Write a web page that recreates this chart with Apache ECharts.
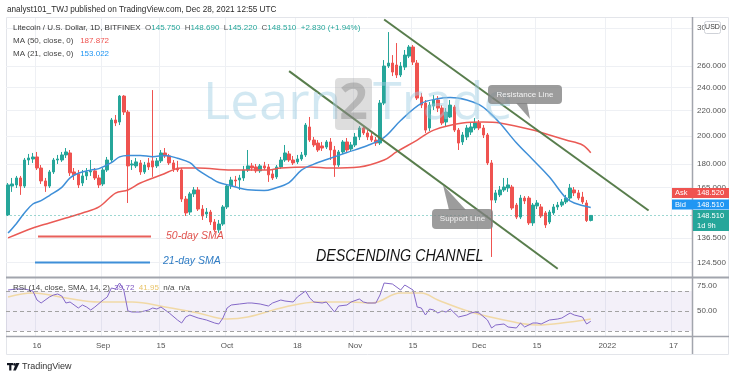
<!DOCTYPE html>
<html><head><meta charset="utf-8">
<script src="https://cdn.jsdelivr.net/npm/echarts@6/dist/echarts.min.js"></script>
<style>html,body{margin:0;padding:0;background:#fff}#c{width:740px;height:379px}</style>
</head><body><div id="c"></div>
<script>
// ---------- DATA ----------
const firstDay = '2021-08-09';   // first category (day index 0)
const dayCount = 166;            // categories through 2022-01-21
// daily candles from 2021-08-09 to 2021-12-28: [open, close, low, high]
const candles = [
[148.8,166.5,148.2,167.7],[165.8,167.1,162.2,170.9],[166.5,170.9,164.6,172.2],[170.9,165.8,160.4,172.2],
[165.8,182.8,164.6,184.2],[182.8,184.2,179.4,187.0],[183.5,184.9,180.8,187.7],[184.9,177.4,176.1,188.4],
[177.4,169.0,167.1,179.4],[169.0,165.8,162.2,170.9],[165.8,174.8,164.6,176.1],[174.8,182.8,173.5,184.2],
[182.8,183.5,180.1,186.3],[182.8,186.3,181.5,188.4],[186.3,188.4,184.2,191.2],[187.7,174.2,172.2,189.8],
[174.8,172.9,169.6,177.4],[173.5,166.5,164.6,176.1],[167.7,172.2,165.8,176.1],[172.2,174.8,169.6,177.4],
[174.8,175.5,172.2,182.8],[175.5,170.9,169.6,177.4],[170.9,166.5,164.6,172.9],[167.1,176.1,165.8,177.4],
[176.1,182.8,174.8,184.9],[182.8,212.4,181.5,214.0],[212.4,210.0,207.6,216.4],[210.8,232.3,208.4,233.2],
[232.3,218.8,216.4,233.2],[218.8,178.8,155.6,220.5],[179.4,180.1,176.1,182.8],[178.8,181.5,177.4,184.2],
[180.8,174.8,172.9,182.8],[174.8,179.4,173.5,181.5],[180.8,178.1,176.1,184.2],[182.2,178.1,171.6,237.6],
[178.8,182.2,177.4,184.2],[182.2,187.7,180.8,189.8],[187.7,185.6,184.2,191.2],[185.6,180.8,179.4,187.0],
[180.8,176.8,174.8,182.8],[177.4,176.1,174.8,182.2],[176.1,157.9,156.2,177.4],[157.9,149.9,148.2,159.7],
[150.4,161.0,148.8,162.2],[161.0,163.4,159.1,165.2],[163.4,152.1,151.0,165.2],[152.1,148.2,146.0,154.4],
[149.3,150.4,147.1,152.7],[150.4,144.9,143.3,151.6],[144.9,140.7,139.6,146.5],[140.7,143.8,139.1,146.0],
[143.8,153.3,142.8,154.4],[153.3,165.8,152.1,167.1],[165.8,169.6,164.0,171.6],[169.6,169.0,165.8,172.2],
[169.6,170.9,163.4,172.9],[170.9,176.1,169.0,178.8],[176.1,178.8,174.8,189.8],[178.8,177.4,175.5,180.8],
[178.1,175.5,174.2,180.1],[175.5,178.8,174.2,180.1],[178.8,177.4,176.1,181.5],[178.1,172.9,168.4,180.1],
[173.5,170.9,169.6,176.1],[171.6,178.1,170.3,179.4],[178.1,182.8,176.8,184.9],[182.8,187.7,181.5,193.4],
[187.0,182.8,181.5,189.1],[182.8,180.8,179.4,185.6],[181.5,183.5,180.1,186.3],[183.5,186.3,182.2,188.4],
[186.3,208.4,184.9,210.0],[206.9,197.0,195.6,214.8],[197.0,193.4,191.9,199.3],[194.8,189.8,188.4,197.0],
[192.7,191.2,189.1,195.6],[191.9,195.6,190.5,197.0],[195.6,189.8,182.8,198.5],[189.8,179.4,171.6,192.7],
[179.4,188.4,178.1,189.8],[188.4,195.6,187.0,197.0],[195.6,189.8,188.4,198.5],[190.5,193.4,189.1,195.6],
[193.4,199.3,191.9,202.3],[199.3,206.1,197.0,207.6],[206.1,202.3,200.8,208.4],[202.3,199.3,197.0,204.5],
[200.0,197.0,195.6,202.3],[197.0,194.8,192.7,199.3],[194.8,226.3,193.4,228.9],[226.3,260.0,224.6,265.9],
[260.0,262.9,258.1,295.3],[262.9,254.2,250.4,270.9],[261.0,251.4,248.6,283.4],[251.4,260.0,249.5,263.9],
[259.0,270.9,256.1,276.1],[269.9,279.2,267.9,281.3],[279.2,263.9,261.0,281.3],[262.9,230.6,228.9,265.9],
[231.5,224.6,222.1,235.0],[226.3,204.5,202.3,228.9],[206.1,224.6,203.8,227.2],[223.8,228.9,220.5,233.2],
[228.9,222.1,218.8,232.3],[222.1,210.0,208.4,224.6],[210.8,218.8,207.6,222.1],[214.8,224.6,214.0,228.9],
[223.0,204.5,203.0,224.6],[204.5,194.8,189.8,206.1],[195.6,200.8,193.4,203.0],[199.3,206.1,197.0,208.4],
[203.0,206.9,200.8,210.0],[206.1,210.0,204.5,214.0],[210.0,206.1,204.5,212.4],[206.1,200.8,198.5,208.4],
[200.8,180.8,179.4,202.3],[180.8,157.3,127.1,182.8],[157.3,161.6,155.6,163.4],[160.4,163.4,159.1,165.8],
[163.4,165.2,162.2,170.9],[164.6,166.5,162.2,170.9],[165.2,152.7,151.6,166.5],[154.4,147.6,146.5,155.6],
[147.6,158.5,146.5,160.4],[158.5,156.8,155.0,159.7],[158.5,144.4,143.3,159.7],[144.4,154.4,142.8,155.6],
[153.9,155.6,152.1,157.3],[153.3,148.2,147.1,155.0],[149.9,143.3,141.7,151.0],[144.9,150.4,143.8,151.6],
[149.9,153.3,148.8,155.0],[153.3,154.4,151.6,156.2],[154.4,156.2,153.3,157.9],[156.2,158.5,155.0,160.4],
[158.5,164.6,157.3,167.1],[163.4,161.6,159.7,165.2],[161.6,158.5,157.3,163.4],[159.1,156.2,155.0,162.2],
[155.6,145.68,144.9,157.3],[145.75,148.51,145.22,148.69]
];
// moving averages: [day index, value]
const ma50 = [[0,136.5],[6,141.7],[10,144.4],[14,147.1],[18,149.9],[22,153.3],[26,161.5],[29,163.4],[32,167.7],
[37,172.8],[42,177.4],[46,177.4],[54,176.1],[63,176.1],[66,177.4],[73,178.1],[78,177.4],[85,178.1],[91,182.8],
[94,188.4],[99,197.0],[103,204.5],[110,210],[115,210.8],[119,210],[127,204.5],[131,200.7],[135,197.0],[139,193.4],[141,187.872]];
const ma21 = [[0,139],[2,144],[4,150],[6,155],[8,157],[10,160],[13,165],[15,171],[17,174],[20,176],[22,177],[25,181],
[27,185],[29,186],[32,186],[35,185],[38,186],[41,184],[44,181],[46,176],[49,171],[51,168],[54,166],[56,164.5],[58,163.5],
[62,163],[64,164],[68,168],[71,176],[74,180],[78,184],[82,188],[87,193],[91,199],[95,212],[100,226],[104,230],[107,231],
[111,229],[114,225],[116,220],[119,210],[123,195],[127,183],[131,171.5],[135,158.5],[137,155.6],[141,153.022]];
// RSI(14) and its SMA: [day index, value]
const rsi = [[0,71],[2,72],[4,72],[6,70],[7,61],[8,58],[10,64],[11,66],[12,67],[13,65],[14,58],[15,59],[17,53],[18,56],
[19,54],[20,51],[21,54],[23,61],[24,64],[25,73],[26,72],[27,78],[28,71],[29,50],[30,49],[32,49],[33,50],[34,51],[35,53],
[36,52],[37,54],[39,48],[41,41],[42,38],[43,44],[44,46],[46,43],[47,42],[48,41],[50,38],[51,37],[52,43],[53,53],[54,56],
[56,57],[58,58],[59,58],[61,57],[63,55],[64,58],[66,61],[67,60],[69,59],[70,64],[72,70],[73,63],[74,59],[76,58],[77,59],
[79,49],[80,55],[82,56],[83,59],[85,62],[86,59],[87,58],[89,58],[90,66],[91,78],[93,77],[95,71],[96,76],[98,71],[99,54],
[100,53],[101,46],[102,52],[103,51],[104,48],[105,50],[106,49],[107,52],[109,44],[111,46],[112,48],[113,49],[114,48],
[116,41],[117,33],[118,36],[120,37],[121,34],[123,33],[124,38],[125,34],[127,38],[128,38],[129,37],[131,41],[133,42],
[134,43],[136,48],[137,46],[139,44],[140,37],[141,39.72]];
const rsiSma = [[0,64],[6,68],[14,63],[22,59],[30,59],[38,54],[46,48],[53,42],[58,44],[67,54],[75,59],[83,59],[88,58],
[95,68],[100,68],[104,61],[112,49],[120,41],[128,36],[136,39],[141,41.95]];
// drawn trend lines: [day index, price]
const resistanceLine = [[91,309.6],[155,151.3]];
const supportLine = [[68,255.1],[133,121.6]];
// axis ticks
const priceTicks = [124.5,136.5,165,180,200,220,240,260,300];
const rsiTicks = [50,75];
const rsiLevels = [30,50,70];
const timeTicks = {'2021-08-16':'16','2021-09-01':'Sep','2021-09-15':'15','2021-10-01':'Oct','2021-10-18':'18',
  '2021-11-01':'Nov','2021-11-15':'15','2021-12-01':'Dec','2021-12-15':'15','2022-01-01':'2022','2022-01-17':'17'};
const lastClose = 148.51, askPrice = 148.52, bidPrice = 148.51;

// ---------- BUILD ----------
const cats = [];
const t0 = Date.parse(firstDay + 'T00:00:00Z');
for (let k = 0; k < dayCount; k++) cats.push(new Date(t0 + k * 864e5).toISOString().slice(0, 10));
const L = Math.log;
const UP = '#26a69a', DOWN = '#ef5350';
const FF = '"Liberation Sans", Arial, sans-serif';
const isTick = (i, v) => timeTicks[v] !== undefined;
const GRID = '#eef0f4';
const pairs = arr => arr.map(([i, v]) => [i, L(v)]);

const chart = echarts.init(document.getElementById('c'), null, {renderer: 'canvas'});
function txt(x, y, text, font, fill, extra) {
  return Object.assign({type: 'text', x: x, y: y, z: 100, silent: true,
    style: {text: text, font: font, fill: fill, verticalAlign: 'middle', textVerticalAlign: 'middle'}}, extra || {});
}
function ctxt(x, y, text, font, fill, z) {
  return {type: 'text', x: x, y: y, z: z || 100, silent: true,
    style: {text: text, font: font, fill: fill, align: 'center', textAlign: 'center', verticalAlign: 'middle', textVerticalAlign: 'middle'}};
}
const f8 = '8px ' + FF;
const option = {
  animation: false,
  backgroundColor: '#fff',
  grid: [{left: 6, top: 18, width: 686, height: 259}, {left: 6, top: 278, width: 686, height: 58}],
  xAxis: [
    {type: 'category', gridIndex: 0, data: cats, boundaryGap: true, axisLine: {show: false}, axisTick: {show: false},
     axisLabel: {show: false}, splitLine: {show: true, interval: isTick, lineStyle: {color: GRID}}},
    {type: 'category', gridIndex: 1, data: cats, boundaryGap: true, axisLine: {show: false}, axisTick: {show: false},
     axisLabel: {show: true, interval: isTick, formatter: v => timeTicks[v], color: '#555', fontSize: 8, fontFamily: FF, margin: 6},
     splitLine: {show: true, interval: isTick, lineStyle: {color: GRID}}}
  ],
  yAxis: [
    {type: 'value', gridIndex: 0, position: 'right', min: L(117.9), max: L(311.3), axisLine: {show: false},
     axisTick: {show: false, customValues: priceTicks.map(L)},
     axisLabel: {customValues: priceTicks.map(L), formatter: v => Math.exp(v).toFixed(3), color: '#555', fontSize: 8, fontFamily: FF, margin: 5},
     splitLine: {show: true, lineStyle: {color: GRID}}},
    {type: 'value', gridIndex: 1, position: 'right', min: 25, max: 83, axisLine: {show: false},
     axisTick: {show: false, customValues: rsiTicks},
     axisLabel: {customValues: rsiTicks, formatter: v => v.toFixed(2), color: '#555', fontSize: 8, fontFamily: FF, margin: 5},
     splitLine: {show: false}}
  ],
  series: [
    {type: 'candlestick', xAxisIndex: 0, yAxisIndex: 0, barWidth: 3,
     data: candles.map(c => c.map(L)),
     itemStyle: {color: UP, color0: DOWN, borderColor: UP, borderColor0: DOWN, borderWidth: 1},
     markLine: {silent: true, symbol: ['none', 'none'], label: {show: false}, animation: false,
       data: [
         {yAxis: L(lastClose), lineStyle: {color: 'rgba(38,166,154,0.45)', type: [2, 2], width: 1}},
         [{coord: [resistanceLine[0][0], L(resistanceLine[0][1])], lineStyle: {color: '#587d4c', width: 2, type: 'solid'}},
          {coord: [resistanceLine[1][0], L(resistanceLine[1][1])]}],
         [{coord: [supportLine[0][0], L(supportLine[0][1])], lineStyle: {color: '#587d4c', width: 2, type: 'solid'}},
          {coord: [supportLine[1][0], L(supportLine[1][1])]}]
       ]}},
    {type: 'line', xAxisIndex: 0, yAxisIndex: 0, data: pairs(ma50), smooth: 0.35, showSymbol: false,
     lineStyle: {color: '#ea5a55', width: 1.5}, z: 3},
    {type: 'line', xAxisIndex: 0, yAxisIndex: 0, data: pairs(ma21), smooth: 0.35, showSymbol: false,
     lineStyle: {color: '#3f8fd8', width: 1.5}, z: 3},
    {type: 'line', xAxisIndex: 1, yAxisIndex: 1, data: rsiSma, smooth: 0.4, showSymbol: false,
     lineStyle: {color: '#f1d9a6', width: 1.5}},
    {type: 'line', xAxisIndex: 1, yAxisIndex: 1, data: rsi, showSymbol: false,
     lineStyle: {color: '#8468c8', width: 1},
     markArea: {silent: true, itemStyle: {color: 'rgba(126,87,194,0.09)'}, data: [[{yAxis: rsiLevels[0]}, {yAxis: rsiLevels[2]}]]},
     markLine: {silent: true, symbol: ['none', 'none'], label: {show: false},
       lineStyle: {color: '#a3a3a3', type: [4, 3], width: 1}, data: rsiLevels.map(v => ({yAxis: v}))}}
  ],
  graphic: [
    // frame and separators
    {type: 'rect', z: 0, silent: true, shape: {x: 6.5, y: 17.5, width: 722, height: 337}, style: {fill: 'none', stroke: '#e3e5ea', lineWidth: 1}},
    {type: 'line', z: 90, silent: true, shape: {x1: 6, y1: 277.5, x2: 729, y2: 277.5}, style: {stroke: '#a2a5ad', lineWidth: 2}},
    {type: 'line', z: 90, silent: true, shape: {x1: 6, y1: 336.5, x2: 729, y2: 336.5}, style: {stroke: '#a2a5ad', lineWidth: 1.5}},
    {type: 'line', z: 90, silent: true, shape: {x1: 692.5, y1: 17, x2: 692.5, y2: 354}, style: {stroke: '#a2a5ad', lineWidth: 1.5}},
    // header
    txt(7, 10, 'analyst101_TWJ published on TradingView.com, Dec 28, 2021 12:55 UTC', '8.2px ' + FF, '#2b2b2b'),
    // legends
    {type: 'text', x: 13, y: 28, z: 100, silent: true, style: {font: f8, verticalAlign: 'middle', textVerticalAlign: 'middle',
      text: '{a|Litecoin / U.S. Dollar, 1D, BITFINEX}  {k|O}{g|145.750}  {k|H}{g|148.690}  {k|L}{g|145.220}  {k|C}{g|148.510}  {g|+2.830 (+1.94%)}',
      rich: {a: {fill: '#333', font: f8}, k: {fill: '#555', font: f8}, g: {fill: '#26a69a', font: f8}}}},
    {type: 'text', x: 13, y: 41, z: 100, silent: true, style: {font: f8, verticalAlign: 'middle', textVerticalAlign: 'middle',
      text: '{a|MA (50, close, 0)}   {r|187.872}', rich: {a: {fill: '#444', font: f8}, r: {fill: '#ef5350', font: f8}}}},
    {type: 'text', x: 13, y: 54, z: 100, silent: true, style: {font: f8, verticalAlign: 'middle', textVerticalAlign: 'middle',
      text: '{a|MA (21, close, 0)}   {b|153.022}', rich: {a: {fill: '#444', font: f8}, b: {fill: '#2196f3', font: f8}}}},
    {type: 'text', x: 13, y: 288, z: 100, silent: true, style: {font: f8, verticalAlign: 'middle', textVerticalAlign: 'middle',
      text: '{a|RSI (14, close, SMA, 14, 2)}  {p|39.72}  {y|41.95}  {a|n/a  n/a}',
      rich: {a: {fill: '#444', font: f8}, p: {fill: '#7e57c2', font: f8}, y: {fill: '#e9c46a', font: f8}}}},
    // watermark
    txt(203, 104, 'Learn', '52px "Open Sans", sans-serif', 'rgba(160,206,228,0.48)', {z: 50}),
    {type: 'rect', z: 50, silent: true, shape: {x: 335, y: 78, width: 37, height: 52, r: 4}, style: {fill: 'rgba(160,160,160,0.36)'}},
    ctxt(353.5, 105, '2', 'bold 50px "Open Sans", sans-serif', 'rgba(120,120,120,0.38)', 51),
    txt(373, 104, 'Trade', '52px "Open Sans", sans-serif', 'rgba(160,206,228,0.48)', {z: 50}),
    // callouts
    {type: 'polygon', z: 95, silent: true, shape: {points: [[516, 103], [527, 103], [530, 119]]}, style: {fill: 'rgba(128,128,128,0.78)'}},
    {type: 'rect', z: 95, silent: true, shape: {x: 488, y: 85, width: 74, height: 19, r: 4}, style: {fill: 'rgba(128,128,128,0.78)'}},
    ctxt(525, 94.5, 'Resistance Line', f8, '#f2f2f2'),
    {type: 'polygon', z: 95, silent: true, shape: {points: [[449, 210], [466, 210], [443, 185]]}, style: {fill: 'rgba(128,128,128,0.78)'}},
    {type: 'rect', z: 95, silent: true, shape: {x: 432, y: 209, width: 61, height: 20, r: 4}, style: {fill: 'rgba(128,128,128,0.78)'}},
    ctxt(462.5, 219, 'Support Line', f8, '#f2f2f2'),
    // SMA legend drawings
    {type: 'line', z: 95, silent: true, shape: {x1: 38, y1: 236.5, x2: 151, y2: 236.5}, style: {stroke: '#e8605b', lineWidth: 2}},
    txt(166, 236, '50-day SMA', 'italic 10.5px ' + FF, '#e0524d'),
    {type: 'line', z: 95, silent: true, shape: {x1: 35, y1: 262.5, x2: 150, y2: 262.5}, style: {stroke: '#3f8fd8', lineWidth: 2}},
    txt(163, 261, '21-day SMA', 'italic 10.5px ' + FF, '#2f7cc4'),
    txt(316, 256, 'DESCENDING CHANNEL', 'italic 17px ' + FF, '#141414', {scaleX: 0.84}),
    // price-scale tags
    {type: 'rect', z: 110, silent: true, shape: {x: 672, y: 188, width: 57, height: 10}, style: {fill: '#ef5350'}},
    txt(675, 193, 'Ask', '7.5px ' + FF, '#fff', {z: 111}),
    txt(697, 193, askPrice.toFixed(3), '7.5px ' + FF, '#fff', {z: 111}),
    {type: 'rect', z: 110, silent: true, shape: {x: 672, y: 199.5, width: 57, height: 10}, style: {fill: '#2196f3'}},
    txt(675, 204.5, 'Bid', '7.5px ' + FF, '#fff', {z: 111}),
    txt(697, 204.5, bidPrice.toFixed(3), '7.5px ' + FF, '#fff', {z: 111}),
    {type: 'rect', z: 110, silent: true, shape: {x: 693, y: 210, width: 36, height: 21}, style: {fill: '#26a69a'}},
    txt(697, 215.5, lastClose.toFixed(3), '7.5px ' + FF, '#fff', {z: 111}),
    txt(697, 225.5, '1d 9h', '7.5px ' + FF, '#fff', {z: 111}),
    {type: 'rect', z: 110, silent: true, shape: {x: 704.5, y: 21.5, width: 16, height: 12, r: 2}, style: {fill: '#fff', stroke: '#cfd2d8', lineWidth: 1}},
    ctxt(712.5, 27.5, 'USD', '7px ' + FF, '#333', 111),
    // footer logo + text
    {type: 'rect', z: 100, silent: true, shape: {x: 7, y: 363, width: 6, height: 2.2}, style: {fill: '#131722'}},
    {type: 'rect', z: 100, silent: true, shape: {x: 9.2, y: 363, width: 2.2, height: 7.5}, style: {fill: '#131722'}},
    {type: 'circle', z: 100, silent: true, shape: {cx: 14.5, cy: 364.4, r: 1.3}, style: {fill: '#131722'}},
    {type: 'polygon', z: 100, silent: true, shape: {points: [[16, 363], [19.5, 363], [15.8, 370.5], [13.2, 370.5]]}, style: {fill: '#131722'}},
    txt(22, 367, 'TradingView', '9px ' + FF, '#333')
  ]
};
chart.setOption(option);
</script>
</body></html>
